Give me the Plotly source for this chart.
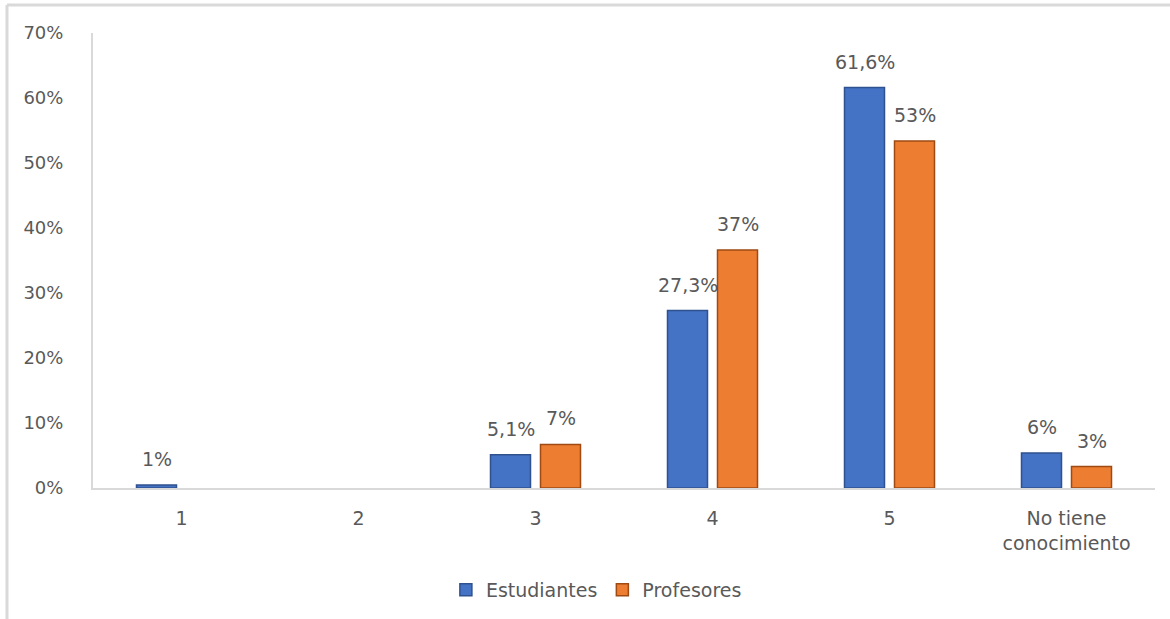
import plotly.graph_objects as go

categories = ["1", "2", "3", "4", "5", "No tiene<br>conocimiento"]
estudiantes = [0.45, None, 5.1, 27.3, 61.6, 5.4]
profesores = [None, None, 6.7, 36.6, 53.4, 3.3]
est_labels = ["1%", "", "5,1%", "27,3%", "61,6%", "6%"]
prof_labels = ["", "", "7%", "37%", "53%", "3%"]
y_ticks = [0, 10, 20, 30, 40, 50, 60, 70]
y_tick_text = ["0%", "10%", "20%", "30%", "40%", "50%", "60%", "70%"]

FONT = "DejaVu Sans, sans-serif"
GRAY = "#595959"

fig = go.Figure()
fig.add_trace(go.Bar(
    name="Estudiantes", x=categories, y=estudiantes,
    marker=dict(color="#4472C4", line=dict(color="#2F528F", width=1.5)),
))
fig.add_trace(go.Bar(
    name="Profesores", x=categories, y=profesores,
    marker=dict(color="#ED7D31", line=dict(color="#9E4A12", width=1.5)),
))

annotations = []
for values, labels, shift in ((estudiantes, est_labels, -25), (profesores, prof_labels, 25)):
    for idx, (val, lab) in enumerate(zip(values, labels)):
        if lab and val is not None:
            annotations.append(dict(
                x=idx, y=val, xref="x", yref="y", text=lab, showarrow=False,
                xshift=shift, yshift=13, yanchor="bottom", xanchor="center",
                font=dict(size=19, color=GRAY, family=FONT),
            ))

fig.update_layout(
    width=1170, height=619,
    margin=dict(l=93, r=15, t=33, b=131, autoexpand=False),
    paper_bgcolor="white", plot_bgcolor="white",
    barmode="group", bargap=0.435, bargroupgap=0.2,
    font=dict(family=FONT, size=16, color=GRAY),
    showlegend=True,
    legend=dict(orientation="h", x=0.474, xanchor="center", y=-0.224, yanchor="middle",
                font=dict(size=19, color=GRAY, family=FONT), itemwidth=30,
                traceorder="normal"),
    xaxis=dict(showgrid=False, showline=True, linecolor="#D9D9D9", linewidth=2,
               ticks="", ticklabelstandoff=12, automargin=False,
               tickfont=dict(size=19, color=GRAY, family=FONT)),
    yaxis=dict(range=[0, 70], tickvals=y_ticks, ticktext=y_tick_text,
               showgrid=False, showline=True, linecolor="#D9D9D9", linewidth=2,
               ticks="", ticklabelstandoff=24, zeroline=False, automargin=False,
               tickfont=dict(size=18, color=GRAY, family=FONT)),
    annotations=annotations,
    shapes=[
        dict(type="line", xref="paper", yref="paper", x0=-0.081, x1=1.02,
             y0=1.0615, y1=1.0615, line=dict(color="#D9D9D9", width=3)),
        dict(type="line", xref="paper", yref="paper", x0=-0.081, x1=-0.081,
             y0=1.0615, y1=-0.29, line=dict(color="#D9D9D9", width=3)),
    ],
)

fig.write_html("out.html", config={"displayModeBar": False},
               post_script="document.body.style.margin='0px';")
